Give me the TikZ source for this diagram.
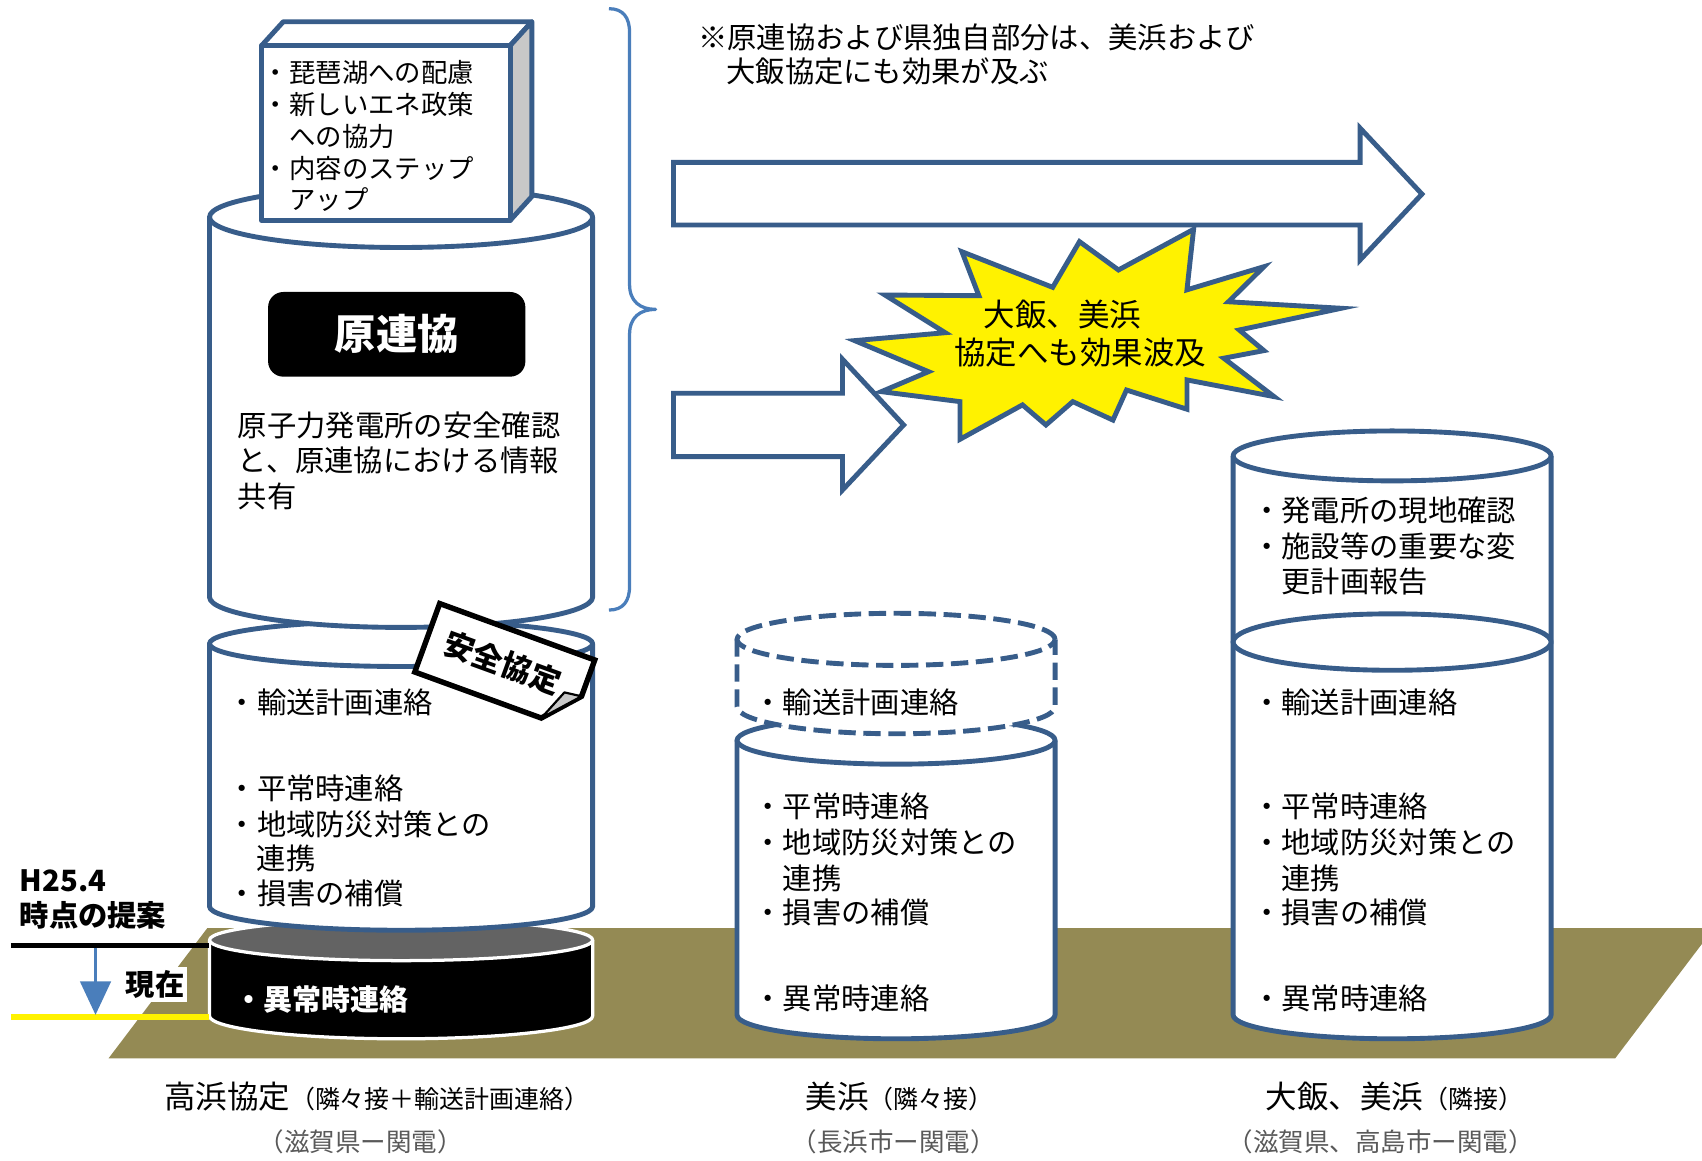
\documentclass[tikz,border=0pt]{standalone}
\usepackage{fontspec}
\setmainfont{Noto Sans CJK JP}
\usetikzlibrary{arrows.meta}
\newcommand\jsz[1]{\fontsize{#1pt}{#1pt}\selectfont}
\definecolor{bl}{HTML}{385D8A}
\definecolor{lb}{HTML}{4A7EBB}
\definecolor{groundcol}{HTML}{948A54}
\definecolor{boxgray}{HTML}{C8C8C8}
\definecolor{ellgray}{HTML}{636363}
\definecolor{labgray}{HTML}{595959}
\newcommand\cylside[6]{%
  \pgfmathsetmacro\cylrx{(#3-#2)/2}%
  \path[#1] (#2,#4) -- (#2,#5) arc[start angle=180,end angle=360,x radius=\cylrx pt,y radius=#6 pt] -- (#3,#4);%
}
\newcommand\cyltop[5]{%
  \pgfmathsetmacro\cylrx{(#3-#2)/2}%
  \pgfmathsetmacro\cylcx{(#2+#3)/2}%
  \path[#1] (\cylcx,#4) ellipse[x radius=\cylrx pt, y radius=#5 pt];%
}
\begin{document}
\begin{tikzpicture}[x=1pt,y=-1pt,line join=round,
  cylsty/.style={fill=white, draw=bl, line width=4.5pt},
  dcyl/.style={fill=white, draw=bl, line width=4.5pt, dash pattern=on 16pt off 7pt},
  txt/.style={inner sep=0pt, anchor=west, text=black},
  item/.style={txt, font=\jsz{27}},
  boxitem/.style={txt, font=\jsz{24.3}},
  lab/.style={txt, text=black},
  sublab/.style={txt, text=labgray, font=\jsz{23.5}},
  outl/.style={draw=bl, line width=4.5pt}]
\useasboundingbox (0,0) rectangle (1568,1069);
\fill[white] (0,0) rectangle (1568,1069);

% ground
\fill[groundcol] (100,975) -- (191,855) -- (1568,855) -- (1568,869.5) -- (1488,975) -- cycle;

% ---------- left stack ----------
\cylside{fill=black, draw=white, line width=3pt}{193}{546}{866}{936}{21}
\cyltop{fill=ellgray, draw=white, line width=3pt}{193}{546}{866}{19}
\node[txt, text=white, font=\jsz{26.7}\bfseries] (ijo1) at (216,921) {・異常時連絡};

\cylside{cylsty}{193}{546}{593}{835}{22}
\cyltop{cylsty}{193}{546}{593}{21}
\node[item] (l2a) at (209.6,647) {・輸送計画連絡};
\node[item] (l2b) at (209.6,726) {・平常時連絡};
\node[item] (l2c) at (209.6,759) {・地域防災対策との};
\node[item] (l2d) at (236.5,791) {連携};
\node[item] (l2e) at (209.6,823) {・損害の補償};

\cylside{cylsty}{193}{546}{200}{550}{28}
\cyltop{cylsty}{193}{546}{200}{28}
\node[fill=black, rounded corners=14pt, minimum width=237pt, minimum height=78pt, inner sep=0pt,
  text=white, font=\jsz{38}\bfseries] (genren) at (365.5,308) {原連協};
\node[item] (g1) at (219,392) {原子力発電所の安全確認};
\node[item] (g2) at (219,424.5) {と、原連協における情報};
\node[item] (g3) at (219,457) {共有};

% 3D box
\path[outl, fill=white] (241,42) -- (261,20) -- (490,20) -- (470,42) -- cycle;
\path[outl, fill=boxgray] (470,42) -- (490,20) -- (490,181) -- (470,203) -- cycle;
\path[outl, fill=white] (241,42) rectangle (470,203);
\node[boxitem] (b1) at (242,67) {・琵琶湖への配慮};
\node[boxitem] (b2) at (242,96) {・新しいエネ政策};
\node[boxitem] (b3) at (266.5,125.5) {への協力};
\node[boxitem] (b4) at (242,155) {・内容のステップ};
\node[boxitem] (b5) at (266.5,184) {アップ};

% tag
\begin{scope}[shift={(465,613.6)}, rotate=-20]
  \path[fill=white, draw=black, line width=5pt, line join=miter] (-76,-33.6) -- (76,-33.6) -- (76,2) -- (48,33.5) -- (-76,33.5) -- cycle;
  \path[fill=boxgray, draw=black, line width=2pt] (76,2) -- (48,33.5) -- (60,4) -- cycle;
  \node[inner sep=0pt, rotate=-20, font=\jsz{28}\bfseries] (anzen) at (-3,-2) {安全協定};
\end{scope}

% brace
\draw[lb, line width=3pt] (561,8) .. controls (574,8) and (580,16) .. (580,30) -- (580,262)
  .. controls (580,278) and (590,285) .. (604,285) .. controls (590,285) and (580,292) .. (580,308)
  -- (580,540) .. controls (580,554) and (574,562) .. (561,562);

% ---------- middle ----------
\cylside{cylsty}{679}{972}{682}{935}{22}
\cyltop{cylsty}{679}{972}{682}{22}
\cylside{dcyl}{679}{972}{589}{651}{25}
\cyltop{dcyl}{679}{972}{589}{24}
\node[item] (m1) at (694,647) {・輸送計画連絡};
\node[item] (m2) at (694,743) {・平常時連絡};
\node[item] (m3) at (694,776) {・地域防災対策との};
\node[item] (m4) at (721,809) {連携};
\node[item] (m5) at (694,841) {・損害の補償};
\node[item] (m6) at (694,920) {・異常時連絡};

% ---------- right ----------
\cylside{cylsty}{1136}{1429}{420}{935}{22}
\cyltop{cylsty}{1136}{1429}{420}{23}
\cyltop{cylsty}{1136}{1429}{591.5}{26}
\node[item] (r1) at (1153.5,470) {・発電所の現地確認};
\node[item] (r2) at (1153.5,503) {・施設等の重要な変};
\node[item] (r3) at (1180.5,536) {更計画報告};
\node[item] (r4) at (1153.5,647) {・輸送計画連絡};
\node[item] (r5) at (1153.5,743) {・平常時連絡};
\node[item] (r6) at (1153.5,776) {・地域防災対策との};
\node[item] (r7) at (1180.5,809) {連携};
\node[item] (r8) at (1153.5,841) {・損害の補償};
\node[item] (r9) at (1153.5,920) {・異常時連絡};

% ---------- arrows ----------
\path[outl, fill=white, line join=miter] (620.5,149.6) -- (1253,149.6) -- (1253,118) -- (1310,178.8)
  -- (1253,239.5) -- (1253,207.3) -- (620.5,207.3) -- cycle;
\path[outl, fill=white, line join=miter] (620.5,362.3) -- (776.2,362.3) -- (776.2,331) -- (832.5,391.5)
  -- (776.2,451.4) -- (776.2,420.7) -- (620.5,420.7) -- cycle;

% starburst
\path[outl, fill=yellow, line join=miter] (1099.6,211.3) -- (1093.5,267) -- (1164.4,245.7) -- (1131.7,278)
  -- (1235.6,284) -- (1141.7,304) -- (1164.4,323) -- (1127.4,330) -- (1173.8,365.4)
  -- (1093.5,350) -- (1093.5,377) -- (1037.8,359.3) -- (1025.3,387) -- (988.3,370)
  -- (963.6,391.5) -- (942,373) -- (884.4,404.7) -- (884.4,370) -- (812,360.8)
  -- (855.4,342.4) -- (787.4,313.8) -- (870.8,306.5) -- (815.3,271.8) -- (901.8,272.4)
  -- (886.2,231.9) -- (969.8,264.7) -- (994.5,222.6) -- (1030.4,248.7) -- cycle;
\node[txt, font=\jsz{29}] (burst1) at (906,290) {大飯、美浜};
\node[txt, font=\jsz{29}] (burst2) at (879,325) {協定へも効果波及};

% note
\node[txt, font=\jsz{27}] (note1) at (643,34) {※原連協および県独自部分は、美浜および};
\node[txt, font=\jsz{27}] (note2) at (669,66) {大飯協定にも効果が及ぶ};

% ---------- time markers ----------
\coordinate (blackL) at (10,871);
\coordinate (blackR) at (193,871);
\coordinate (yelL) at (10,937);
\coordinate (yelR) at (193,937);
\draw[black, line width=4.5pt] (blackL) -- (blackR);
\draw[yellow, line width=5pt] (yelL) -- (yelR);
\coordinate (arrTop) at (88,873);
\coordinate (arrBot) at (88,935);
\draw[lb, line width=3.5pt, -{Triangle[width=28pt,length=31pt]}] (arrTop) -- (arrBot);
\node[txt, font=\jsz{27}\bfseries] (h25) at (18,811) {H25.4};
\node[txt, font=\jsz{27}\bfseries] (teian) at (18,843) {時点の提案};
\node[fill=white, inner xsep=2pt, inner ysep=3pt, font=\jsz{27}\bfseries] (genzai) at (143,907) {現在};

% ---------- bottom labels ----------
\node[lab] (lab1) at (151,1010) {{\jsz{29}高浜協定}{\jsz{23}（隣々接＋輸送計画連絡）}};
\node[sublab] (sub1) at (238,1052) {（滋賀県ー関電）};
\node[lab] (lab2) at (742,1010) {{\jsz{29}美浜}{\jsz{23}（隣々接）}};
\node[sublab] (sub2) at (729,1052) {（長浜市ー関電）};
\node[lab] (lab3) at (1166,1010) {{\jsz{29}大飯、美浜}{\jsz{23}（隣接）}};
\node[sublab] (sub3) at (1131,1052) {（滋賀県、高島市ー関電）};
\end{tikzpicture}
\end{document}
